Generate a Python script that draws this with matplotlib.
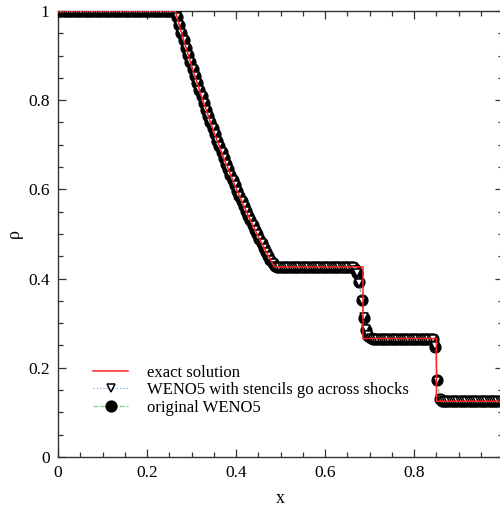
import numpy as np
import matplotlib
matplotlib.use("Agg")
import matplotlib.pyplot as plt
from matplotlib.ticker import MultipleLocator

plt.rcParams['font.family'] = ['Liberation Serif', 'DejaVu Serif']

# Exact Riemann solution (Sod tube, t = 0.2): breakpoints and fan samples
x_exact = [0.0, 0.2634, 0.28, 0.30, 0.325, 0.35, 0.375, 0.40, 0.425, 0.45,
           0.475, 0.4859, 0.6854, 0.6854, 0.8504, 0.8504, 1.0]
rho_exact = [1.0, 1.0, 0.9428, 0.8776, 0.8010, 0.7299, 0.6640, 0.6029, 0.5464,
             0.4943, 0.4462, 0.4263, 0.4263, 0.2656, 0.2656, 0.125, 0.125]

# 200 uniform cells on [0, 1]
n_cells = 200
x_cells = (np.arange(n_cells) + 0.5) / n_cells

fan = [0.9855, 0.9682, 0.9512, 0.9343, 0.9178, 0.9015, 0.8854, 0.8696, 0.8539,
       0.8385, 0.8233, 0.8083, 0.7936, 0.7791, 0.7648, 0.7507, 0.7368, 0.7231,
       0.7096, 0.6963, 0.6833, 0.6704, 0.6577, 0.6452, 0.6329, 0.6208, 0.6089,
       0.5971, 0.5855, 0.5741, 0.5629, 0.5519, 0.5410, 0.5304, 0.5199, 0.5095,
       0.4993, 0.4893, 0.4794, 0.4697, 0.4602, 0.4508, 0.4420, 0.4340]

rho_weno = ([1.0] * 52 + [0.999] + fan + [0.4275, 0.4265] + [0.4263] * 33 +
            [0.425, 0.421, 0.412, 0.392, 0.352, 0.312, 0.285, 0.272] +
            [0.2675] + [0.2656] * 28 + [0.247, 0.172, 0.130] + [0.125] * 28)

rho_weno_across = ([1.0] * 52 + [0.999] + fan + [0.4275, 0.4265] + [0.4263] * 33 +
                   [0.425, 0.420, 0.413, 0.390, 0.350, 0.314, 0.286, 0.273] +
                   [0.2675] + [0.2656] * 28 + [0.248, 0.170, 0.131] + [0.125] * 28)

fig = plt.figure(figsize=(5.0, 5.07), dpi=100)
ax = fig.add_axes([58 / 500, 50 / 507, 445 / 500, 446 / 507])

ax.plot(x_exact, rho_exact, color='#ff2020', lw=1.1, zorder=5,
        label='exact solution')
ax.plot(x_cells, rho_weno_across, color='#7fb0e0', ls=':', lw=0.9,
        marker='v', ms=6, mfc='white', mec='black', mew=1.1, zorder=4,
        label='WENO5 with stencils go across shocks')
ax.plot(x_cells, rho_weno, color='#80d080', ls='--', lw=0.9,
        marker='o', ms=7.8, mfc='black', mec='black', zorder=3,
        label='original WENO5')

ax.set_xlim(0, 1)
ax.set_ylim(0, 1)
ax.xaxis.set_minor_locator(MultipleLocator(0.05))
ax.yaxis.set_minor_locator(MultipleLocator(0.05))
ax.set_xticks([0, 0.2, 0.4, 0.6, 0.8])
ax.set_xticklabels(['0', '0.2', '0.4', '0.6', '0.8'])
ax.set_yticks([0, 0.2, 0.4, 0.6, 0.8, 1.0])
ax.set_yticklabels(['0', '0.2', '0.4', '0.6', '0.8', '1'])

ax.tick_params(which='both', direction='in', top=True, right=True,
               labelsize=12.5, colors='#333333', labelcolor='black')
ax.tick_params(which='major', length=6, width=0.9, pad=6)
ax.tick_params(which='minor', length=3.5, width=0.9)
for s in ax.spines.values():
    s.set_color('#333333')
    s.set_linewidth(1.0)

ax.set_xlabel('x', fontsize=13, labelpad=6)
ax.set_ylabel('ρ', fontsize=13, labelpad=4)

ax.legend(loc='lower left', bbox_to_anchor=(0.064, 0.078), frameon=False,
          fontsize=12, handlelength=2.1, handletextpad=1.15,
          labelspacing=0.08, borderaxespad=0)

fig.savefig('out.png', dpi=100)
